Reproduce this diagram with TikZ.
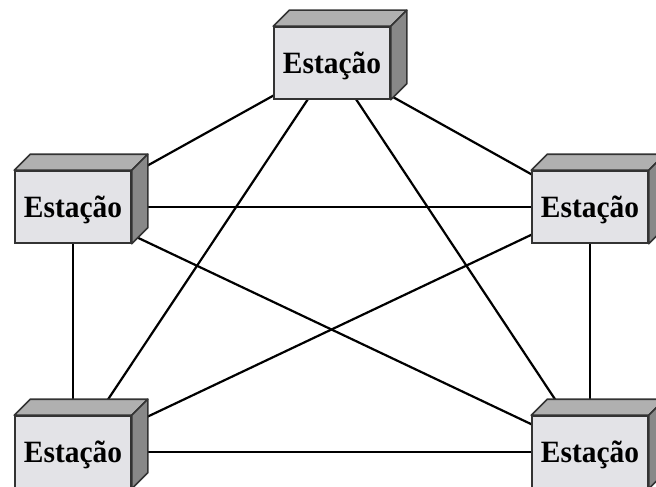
\documentclass[tikz,border=0pt]{standalone}
\usepackage{fontspec}
\setmainfont{Liberation Serif}
\newfontfamily\boxfont[FakeStretch=0.95]{Liberation Serif}
\usetikzlibrary{backgrounds}
\definecolor{frontc}{HTML}{E3E3E7}
\definecolor{topc}{HTML}{B0B0B0}
\definecolor{sidec}{HTML}{888888}
\definecolor{edgec}{HTML}{333333}
\tikzset{
  station/.style={draw=edgec, fill=frontc, line width=1.6pt,
    minimum width=116pt, minimum height=72pt, inner sep=0pt,
    text height=20.5pt, text depth=0pt, text=black,
    font=\boxfont\bfseries\fontsize{31}{31}\selectfont},
  face/.style={draw=edgec, line width=1.6pt, line join=round},
  link/.style={draw=black, line width=2.2pt}
}
% draws the top and right faces of a station box
\newcommand\stationfaces[1]{%
  \draw[face, fill=topc] (#1.north west) -- ([shift={(16,-16)}]#1.north west)
    -- ([shift={(16,-16)}]#1.north east) -- (#1.north east) -- cycle;
  \draw[face, fill=sidec] (#1.north east) -- ([shift={(16,-16)}]#1.north east)
    -- ([shift={(16,-16)}]#1.south east) -- (#1.south east) -- cycle;
}
\begin{document}
\begin{tikzpicture}[x=1pt,y=-1pt]
\useasboundingbox (0,0) rectangle (656,487);
\node[station] (top) at (332,63) {Estação};
\node[station] (lm)  at (73,207) {Estação};
\node[station] (rm)  at (590,207) {Estação};
\node[station] (lb)  at (73,452) {Estação};
\node[station] (rb)  at (590,452) {Estação};
\foreach \s in {top,lm,rm,lb,rb} {\stationfaces{\s}}
\begin{pgfonlayer}{background}
  \draw[link] (top.center) -- (lm.center);
  \draw[link] (top.center) -- (rm.center);
  \draw[link] (top.center) -- (lb.center);
  \draw[link] (top.center) -- (rb.center);
  \draw[link] (lm.center) -- (rm.center);
  \draw[link] (lm.center) -- (lb.center);
  \draw[link] (lm.center) -- (rb.center);
  \draw[link] (rm.center) -- (rb.center);
  \draw[link] (rm.center) -- (lb.center);
  \draw[link] (lb.center) -- (rb.center);
\end{pgfonlayer}
\end{tikzpicture}
\end{document}
